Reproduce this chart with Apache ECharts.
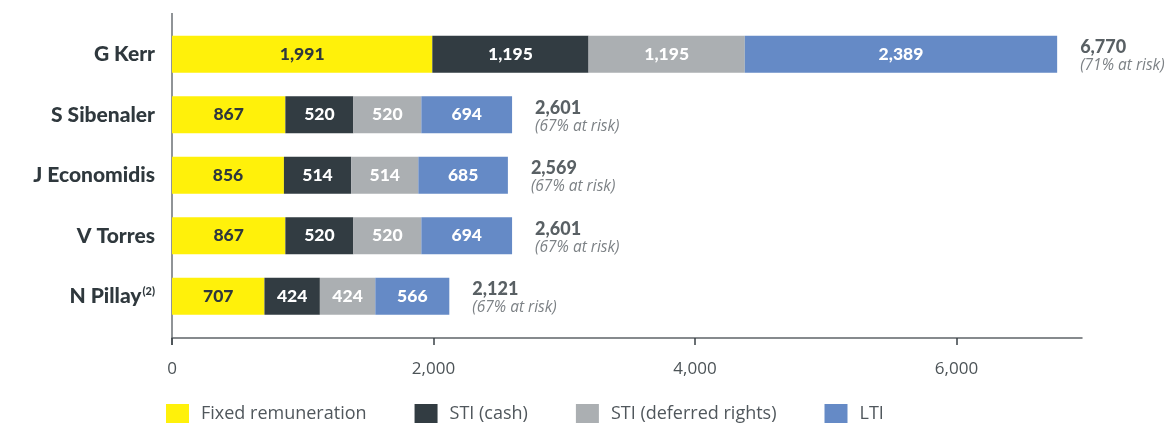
<!DOCTYPE html>
<html>
<head>
<meta charset="utf-8">
<script src="https://cdn.jsdelivr.net/npm/echarts@6/dist/echarts.min.js"></script>
<style>
  html, body { margin: 0; padding: 0; background: #fff; }
  #main { width: 1171px; height: 423px; }
</style>
</head>
<body>
<div id="main"></div>
<script>
var names = ["G Kerr", "S Sibenaler", "J Economidis", "V Torres", "N Pillay"];
var fixedRem = [1991, 867, 856, 867, 707];
var stiCash = [1195, 520, 514, 520, 424];
var stiDeferred = [1195, 520, 514, 520, 424];
var lti = [2389, 694, 685, 694, 566];
var totals = [6770, 2601, 2569, 2601, 2121];
var atRisk = [71, 67, 67, 67, 67];
var xTicks = [0, 2000, 4000, 6000];

var FONT = "Open Sans";
var BOLD = "Lato";
var myChart = echarts.init(document.getElementById("main"));

function fmt(v) {
  return v.toString().replace(/\B(?=(\d{3})+(?!\d))/g, ",");
}

function segLabel(color) {
  return {
    show: true,
    position: "inside",
    color: color,
    fontFamily: BOLD,
    fontWeight: 900,
    fontSize: 17.5,
    formatter: function (p) {
      return fmt(p.value);
    },
  };
}

var totalData = [];
for (var i = 0; i < names.length; i++) {
  totalData.push([totals[i], names[i], atRisk[i]]);
}

var option = {
  animation: false,
  grid: {
    left: 172,
    top: 24,
    height: 302.5,
    width: 910,
  },
  legend: {
    left: 166,
    top: 404,
    padding: 0,
    icon: "rect",
    itemWidth: 23,
    itemHeight: 19,
    itemGap: 48,
    textStyle: {
      color: "#50575c",
      fontFamily: FONT,
      fontSize: 18,
      padding: [0, 0, 0, 7],
    },
    data: ["Fixed remuneration", "STI (cash)", "STI (deferred rights)", "LTI"],
  },
  xAxis: {
    type: "value",
    min: 0,
    max: 6960,
    interval: 2000,
    offset: 11.5,
    splitLine: { show: false },
    axisLine: { show: true, lineStyle: { color: "#5f6468", width: 1.5 } },
    axisTick: {
      show: true,
      length: 7,
      customValues: xTicks,
      lineStyle: { color: "#3a4247", width: 1.5 },
    },
    axisLabel: {
      customValues: xTicks,
      color: "#4c5357",
      fontFamily: FONT,
      fontSize: 17,
      margin: 23,
      formatter: function (v) {
        return fmt(v);
      },
    },
  },
  yAxis: {
    type: "category",
    inverse: true,
    data: names,
    axisLine: { show: false },
    axisTick: { show: false },
    axisLabel: {
      margin: 17,
      formatter: function (v) {
        if (v === "N Pillay") return "{a|N Pillay}{s|(2)}";
        return "{a|" + v + "}";
      },
      rich: {
        a: {
          color: "#2f383d",
          fontFamily: BOLD,
          fontWeight: 900,
          fontSize: 21,
        },
        s: {
          color: "#2f383d",
          fontFamily: BOLD,
          fontWeight: 900,
          fontSize: 11,
          padding: [0, 0, 10, 1],
        },
      },
    },
  },
  graphic: [
    {
      type: "line",
      shape: { x1: 172, y1: 13, x2: 172, y2: 345 },
      style: { stroke: "#6b7074", lineWidth: 1.5 },
      silent: true,
    },
  ],
  series: [
    {
      name: "Fixed remuneration",
      type: "bar",
      stack: "pay",
      barWidth: 37,
      itemStyle: { color: "#fff10a" },
      label: segLabel("#2f383d"),
      data: fixedRem,
    },
    {
      name: "STI (cash)",
      type: "bar",
      stack: "pay",
      itemStyle: { color: "#323c42" },
      label: segLabel("#ffffff"),
      data: stiCash,
    },
    {
      name: "STI (deferred rights)",
      type: "bar",
      stack: "pay",
      itemStyle: { color: "#abafb2" },
      label: segLabel("#ffffff"),
      data: stiDeferred,
    },
    {
      name: "LTI",
      type: "bar",
      stack: "pay",
      itemStyle: { color: "#658ac6" },
      label: segLabel("#ffffff"),
      data: lti,
    },
    {
      name: "Total",
      type: "scatter",
      symbolSize: 0,
      silent: true,
      data: totalData,
      label: {
        show: true,
        position: "right",
        distance: 23,
        align: "left",
        offset: [0, 2],
        formatter: function (p) {
          return "{t|" + fmt(p.value[0]) + "}\n{r|(" + p.value[2] + "% at risk)}";
        },
        rich: {
          t: {
            color: "#2f383d",
            fontFamily: BOLD,
            fontWeight: 900,
            fontSize: 18,
            lineHeight: 19,
          },
          r: {
            color: "#5b6166",
            fontFamily: FONT,
            fontStyle: "italic",
            fontSize: 15.5,
            lineHeight: 18,
          },
        },
      },
    },
  ],
};

myChart.setOption(option);
</script>
</body>
</html>
